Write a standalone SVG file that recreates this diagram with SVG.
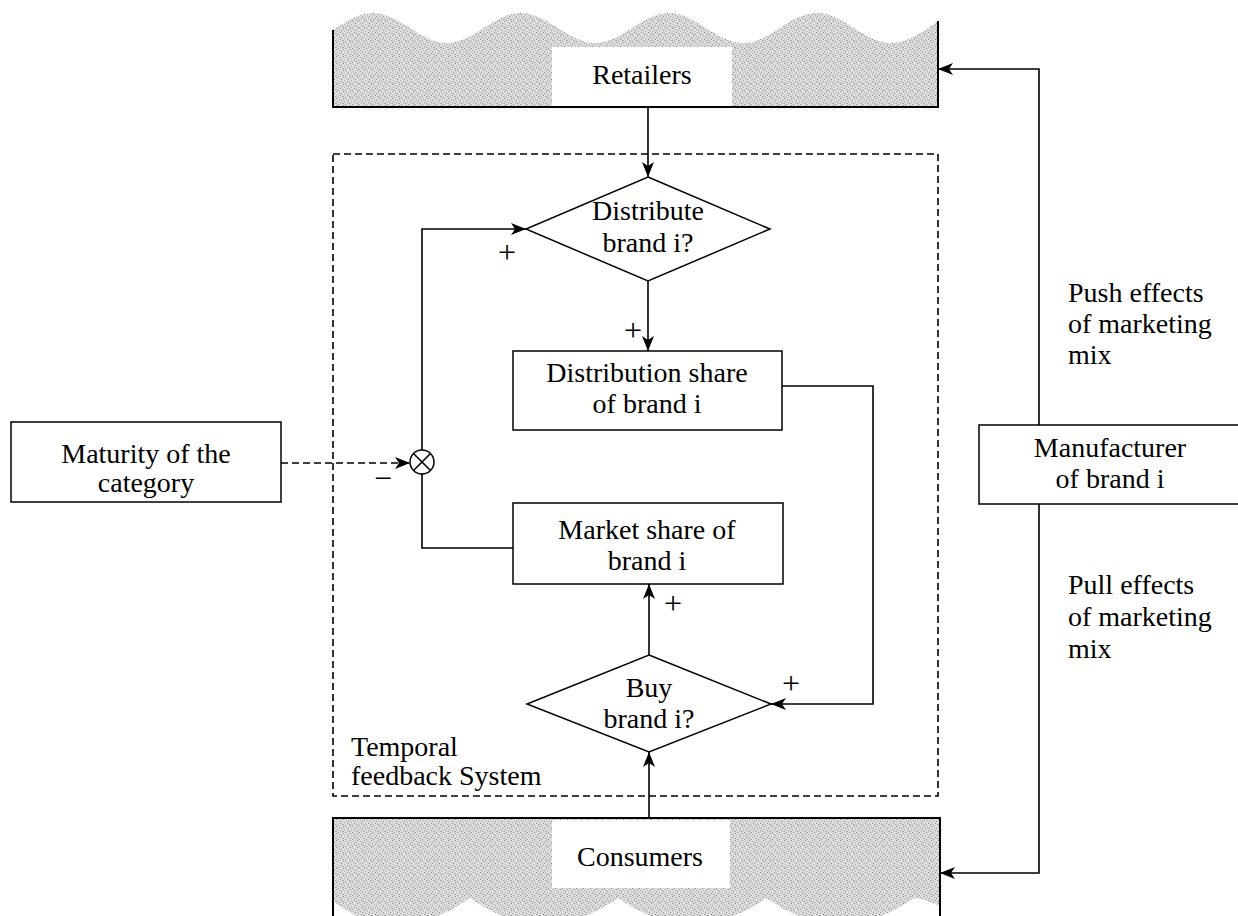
<svg xmlns="http://www.w3.org/2000/svg" width="1238" height="916" viewBox="0 0 1238 916">
<style>
text{font-family:"Liberation Serif","Times New Roman",serif;font-size:28px;fill:#000}
.c{text-anchor:middle}
.sg{font-size:32px;text-anchor:middle}
.box{fill:#fff;stroke:#000;stroke-width:1.5}
.ln{fill:none;stroke:#000;stroke-width:1.6}
.dash{fill:none;stroke:#000;stroke-width:1.6;stroke-dasharray:7 4}
.edge{fill:none;stroke:#000;stroke-width:2}
.d1{fill:#8c8c8c}
.d2{fill:#a8a8a8}
</style>
<defs>
<pattern id="stip" width="7" height="7" patternUnits="userSpaceOnUse">
<rect width="7" height="7" fill="#dcdcdc"/>
<rect x="0" y="0" width="1" height="1" class="d1"/>
<rect x="3" y="1" width="1" height="1" class="d2"/>
<rect x="5" y="2" width="1" height="1" class="d1"/>
<rect x="1" y="3" width="1" height="1" class="d2"/>
<rect x="4" y="4" width="1" height="1" class="d1"/>
<rect x="6" y="5" width="1" height="1" class="d2"/>
<rect x="2" y="6" width="1" height="1" class="d1"/>
<rect x="0" y="5" width="1" height="1" class="d2"/>
</pattern>
<marker id="ah" viewBox="0 0 15 12" refX="15" refY="6" markerWidth="15" markerHeight="12" markerUnits="userSpaceOnUse" orient="auto">
<path d="M0,0 L15,6 L0,12 L4,6 Z" fill="#000"/>
</marker>
</defs>
<rect width="1238" height="916" fill="#fff"/>

<g id="frame">
<rect x="333" y="154" width="605" height="642" class="dash"/>
<text x="351" y="756">Temporal</text>
<text x="351" y="785">feedback System</text>
</g>

<g id="retailers">
<path d="M333,107 L333,30 C346,22 358,13 373,13 C400,13 420,43 447,43 C474,43 494,13 521,13 C548,13 568,43 595,43 C622,43 642,13 669,13 C696,13 716,43 743,43 C770,43 790,13 817,13 C844,13 864,43 891,43 C908,43 926,30 938,21 L938,107 Z" fill="url(#stip)"/>
<path d="M333,30 L333,107 L938,107 L938,21" class="edge"/>
<rect x="552" y="47" width="180" height="59" fill="#fff"/>
<text x="642" y="84" class="c">Retailers</text>
</g>

<g id="consumers">
<path d="M333,818 L940,818 L940,907 Q930,900 914,898 Q840,950 766,898 Q692,950 618,898 Q544,950 470,898 Q396,950 333,901 Z" fill="url(#stip)"/>
<path d="M333,916 L333,818 L940,818 L940,916" class="edge"/>
<rect x="552" y="820" width="178" height="68" fill="#fff"/>
<text x="640" y="866" class="c">Consumers</text>
</g>

<g id="distribute">
<polygon points="648,177 770,229 648,281 526,229" class="box"/>
<text x="648" y="220" class="c">Distribute</text>
<text x="648" y="252" class="c">brand i?</text>
</g>

<g id="distshare">
<rect x="513" y="351" width="269" height="79" class="box"/>
<text x="647" y="382" class="c">Distribution share</text>
<text x="647" y="413" class="c">of brand i</text>
</g>

<g id="marketshare">
<rect x="513" y="503" width="270" height="81" class="box"/>
<text x="647" y="539" class="c">Market share of</text>
<text x="647" y="570" class="c">brand i</text>
</g>

<g id="buy">
<polygon points="649,655 771,704 649,752 527,704" class="box"/>
<text x="649" y="697" class="c">Buy</text>
<text x="649" y="728" class="c">brand i?</text>
</g>

<g id="maturity">
<rect x="11" y="422" width="270" height="80" class="box"/>
<text x="146" y="463" class="c">Maturity of the</text>
<text x="146" y="492" class="c">category</text>
</g>

<g id="manufacturer">
<rect x="979" y="425" width="280" height="79" class="box"/>
<text x="1110" y="457" class="c">Manufacturer</text>
<text x="1110" y="488" class="c">of brand i</text>
</g>

<g id="multiplier">
<circle cx="422" cy="462" r="12" class="box"/>
<path d="M413.5,453.5 L430.5,470.5 M430.5,453.5 L413.5,470.5" class="ln"/>
</g>

<g id="connectors">
<path d="M648,107 V177" class="ln" marker-end="url(#ah)"/>
<path d="M648,281 V351" class="ln" marker-end="url(#ah)"/>
<path d="M422,450 V229 H526" class="ln" marker-end="url(#ah)"/>
<path d="M422,474 V548 H513" class="ln"/>
<path d="M782,386 H873 V704 H771" class="ln" marker-end="url(#ah)"/>
<path d="M649,655 V584" class="ln" marker-end="url(#ah)"/>
<path d="M649,818 V752" class="ln" marker-end="url(#ah)"/>
<path d="M281,463 H410" class="dash" marker-end="url(#ah)"/>
<path d="M1039,425 V69 H938" class="ln" marker-end="url(#ah)"/>
<path d="M1039,504 V873 H940" class="ln" marker-end="url(#ah)"/>
</g>

<g id="labels">
<text x="507" y="263" class="sg">+</text>
<text x="633" y="341" class="sg">+</text>
<text x="673" y="614" class="sg">+</text>
<text x="791" y="694" class="sg">+</text>
<text x="383" y="489" class="sg">−</text>
<text x="1068" y="302">Push effects</text>
<text x="1068" y="333">of marketing</text>
<text x="1068" y="364">mix</text>
<text x="1068" y="594">Pull effects</text>
<text x="1068" y="626">of marketing</text>
<text x="1068" y="658">mix</text>
</g>
</svg>
